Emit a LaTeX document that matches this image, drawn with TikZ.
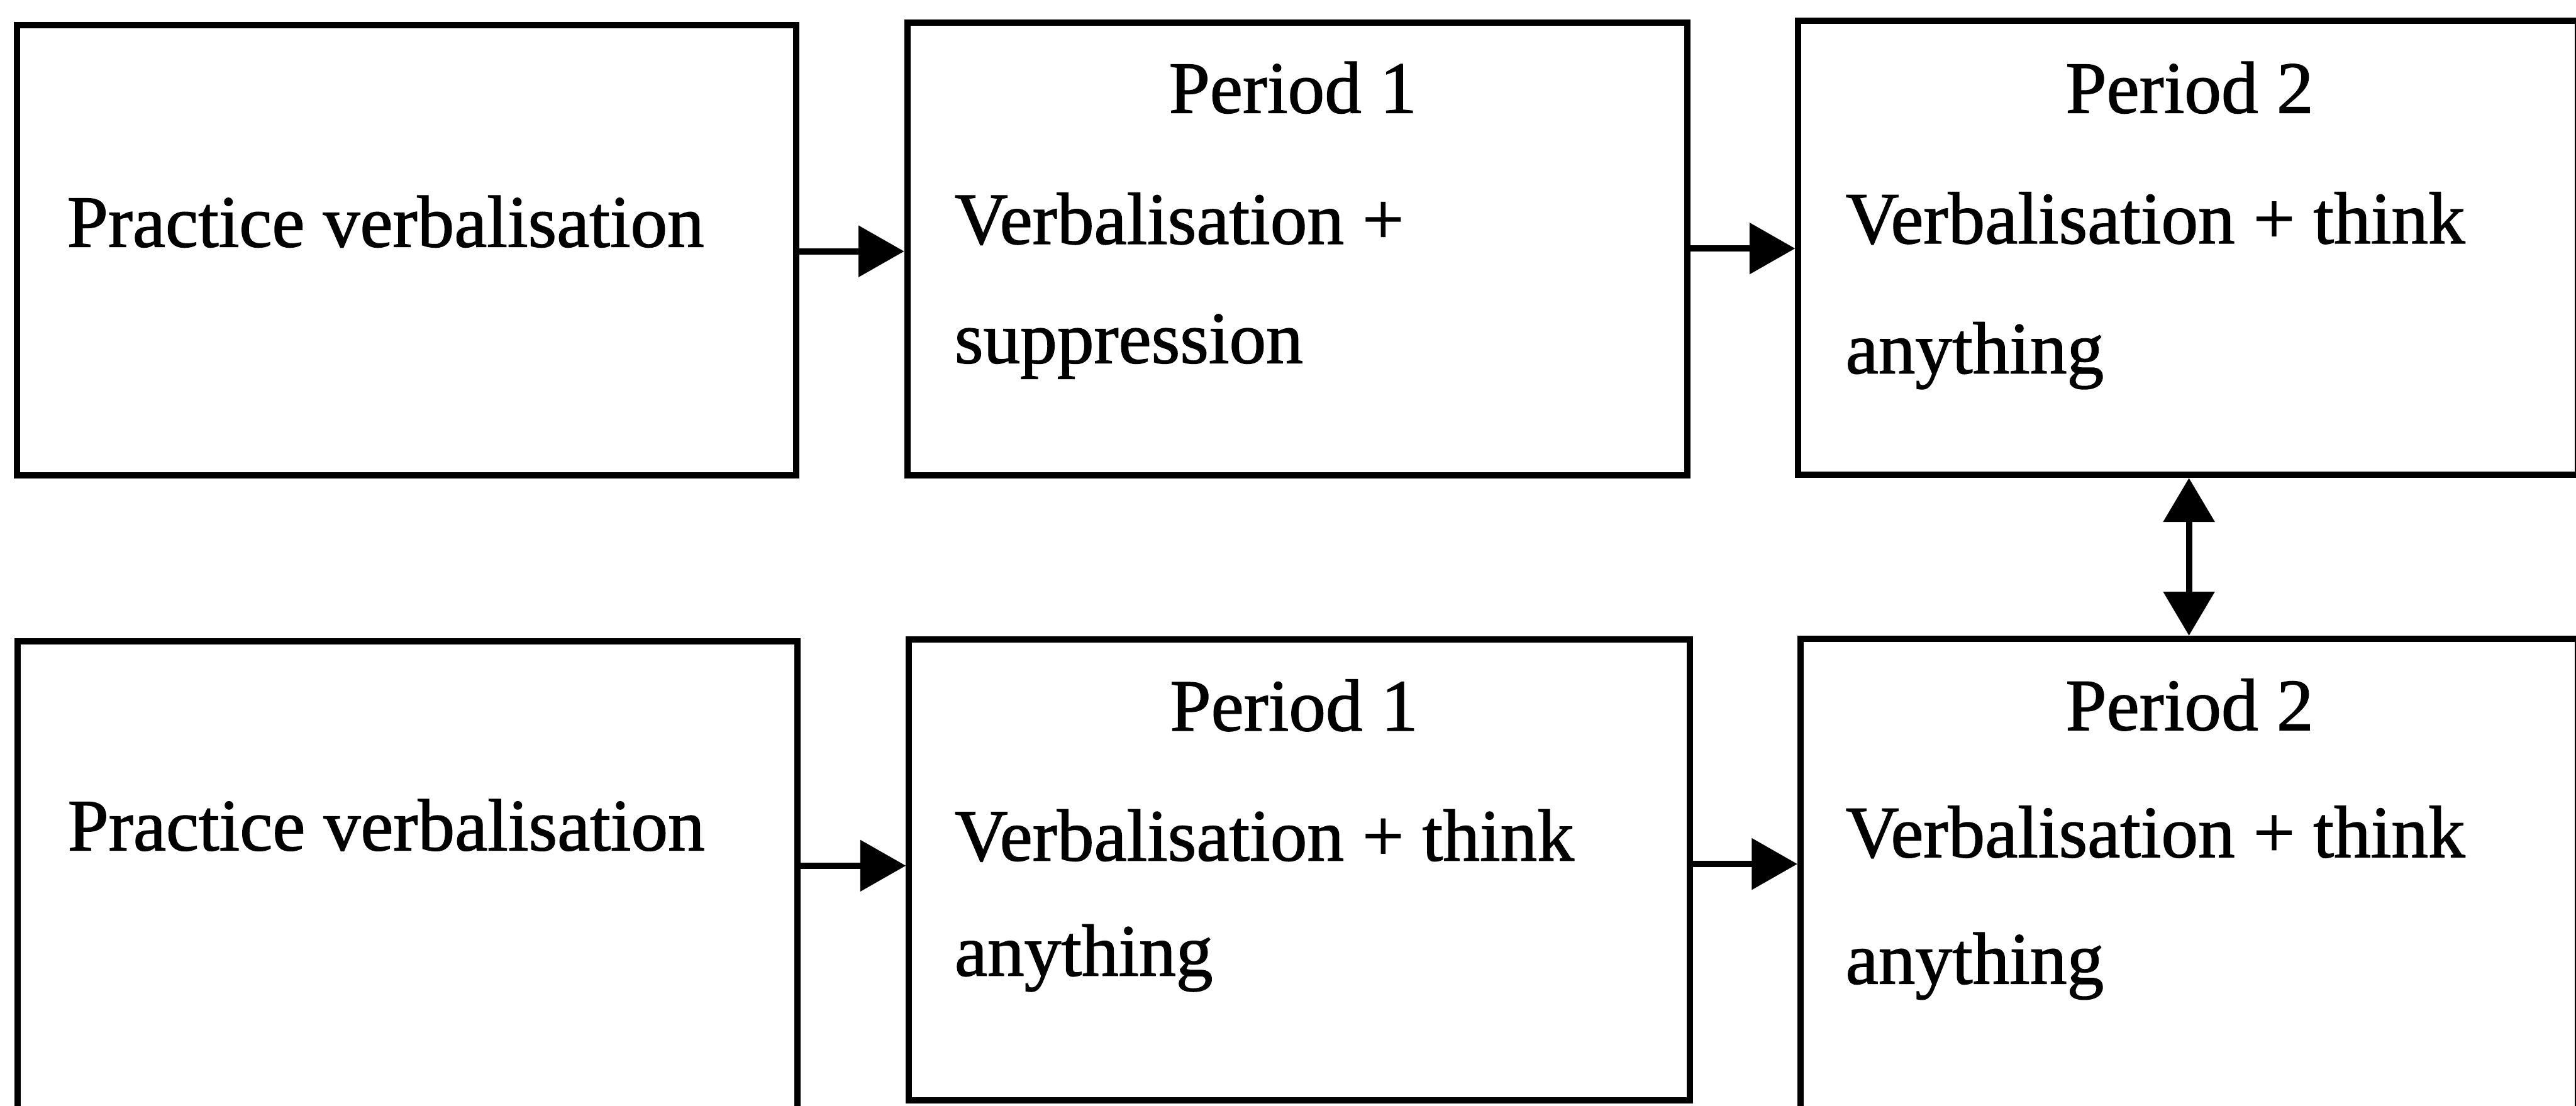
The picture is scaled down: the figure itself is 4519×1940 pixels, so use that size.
\documentclass[tikz,border=0pt]{standalone}
\usepackage{fontspec}
\setmainfont[FakeBold=1.2]{Liberation Serif}
\usetikzlibrary{arrows.meta}
\begin{document}
\begin{tikzpicture}[x=0.01cm,y=-0.01cm,
  box/.style={draw=black, line width=0.11cm, inner sep=0pt, fill=none},
  txt/.style={inner sep=0pt, font=\fontsize{36.8pt}{44pt}\selectfont},
  arr/.style={line width=0.11cm, -{Triangle[length=0.8cm,width=0.88cm]}},
  darr/.style={line width=0.11cm, {Triangle[length=0.77cm,width=0.88cm]}-{Triangle[length=0.77cm,width=0.88cm]}}]
\useasboundingbox (0,0) rectangle (4519,1940);
\clip (0,0) rectangle (4519,1940);
% boxes
\node[box, minimum width=13.66cm, minimum height=7.90cm] (A1) at (713,439) {};
\node[box, minimum width=13.68cm, minimum height=7.94cm] (B1) at (2276,437) {};
\node[box, minimum width=13.67cm, minimum height=7.96cm] (C1) at (3838.5,435) {};
\node[box, minimum width=13.67cm, minimum height=8.24cm] (A2) at (714.5,1538) {};
\node[box, minimum width=13.69cm, minimum height=8.08cm] (B2) at (2279.5,1526) {};
\node[box, minimum width=13.63cm, minimum height=8.29cm] (C2) at (3840.5,1535.5) {};
% texts
\node[txt, anchor=base west] (tA1) at (117,433) {Practice verbalisation};
\node[txt, anchor=base west] (tA2) at (118,1492) {Practice verbalisation};
\node[txt, anchor=base] (pB1) at (2268,198) {Period 1};
\node[txt, anchor=base west] (vB1) at (1674,428) {Verbalisation +};
\node[txt, anchor=base west] (sB1) at (1674,637) {suppression};
\node[txt, anchor=base] (pB2) at (2270,1282) {Period 1};
\node[txt, anchor=base west] (vB2) at (1674,1510) {Verbalisation + think};
\node[txt, anchor=base west] (aB2) at (1674,1712) {anything};
\node[txt, anchor=base] (pC1) at (3841,198) {Period 2};
\node[txt, anchor=base west] (vC1) at (3237,427) {Verbalisation + think};
\node[txt, anchor=base west] (aC1) at (3237,655) {anything};
\node[txt, anchor=base] (pC2) at (3841,1281) {Period 2};
\node[txt, anchor=base west] (vC2) at (3237,1504) {Verbalisation + think};
\node[txt, anchor=base west] (aC2) at (3237,1726) {anything};
% connectors
\draw[arr] ([yshift=-0.02cm]A1.east) -- ([yshift=-0.02cm]A1.east -| B1.west);
\draw[arr] ([yshift=0.01cm]B1.east) -- ([yshift=0.01cm]B1.east -| C1.west);
\draw[arr] ([yshift=0.19cm]A2.east) -- ([yshift=0.19cm]A2.east -| B2.west);
\draw[arr] ([yshift=0.10cm]B2.east) -- ([yshift=0.10cm]B2.east -| C2.west);
\draw[darr] ([xshift=0.015cm]C1.south) -- ([xshift=0.015cm]C1.south |- C2.north);
\end{tikzpicture}
\end{document}
